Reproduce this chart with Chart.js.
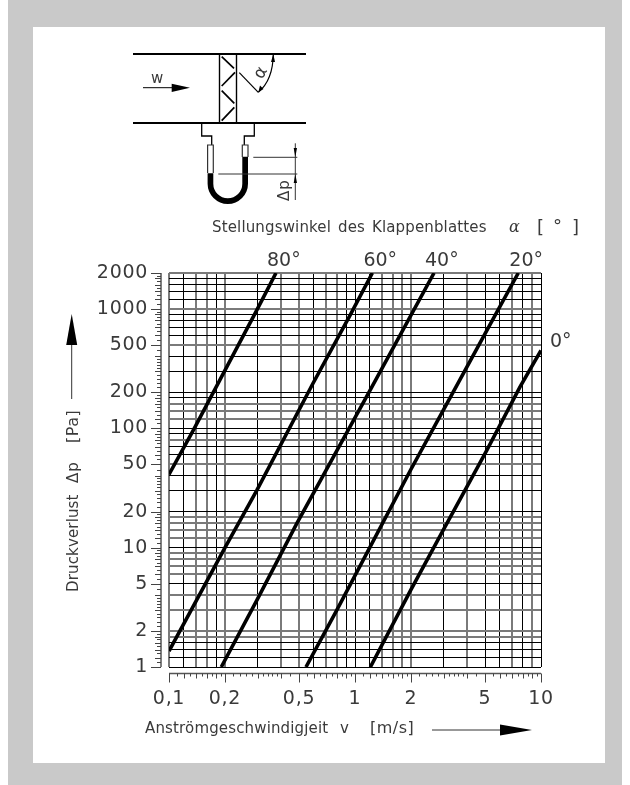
<!DOCTYPE html>
<html>
<head>
<meta charset="utf-8">
<style>html,body{margin:0;padding:0;background:#fff}canvas{display:block}</style>
<script src="https://cdn.jsdelivr.net/npm/chart.js@4"></script>
</head>
<body>
<canvas id="chart" width="630" height="785"></canvas>
<script>
const seriesNames = ['80°', '60°', '40°', '20°', '0°'];

// velocity [m/s] and pressure loss [Pa]
const v80 = [0.1, 0.135, 0.196, 0.298, 0.376];
const p80 = [41, 96, 288, 990, 2000];
const v60 = [0.1, 0.2, 0.296, 0.593, 0.94, 1.24];
const p60 = [1.36, 10, 30, 236, 882, 2000];
const v40 = [0.191, 0.296, 0.486, 1.19, 2.66];
const p40 = [1, 3.6, 15.9, 201, 2000];
const v20 = [0.545, 0.797, 1.2, 1.99, 2.98, 4.98, 7.55];
const p20 = [1, 2.98, 10, 44.7, 141, 611, 2000];
const v0 = [1.21, 1.99, 2.98, 3.98, 5.1, 7.7, 10];
const p0 = [1, 4.39, 14, 32, 65, 221, 449];

const xGrid = [0.1, 0.12, 0.14, 0.16, 0.18, 0.2, 0.3, 0.4, 0.5, 0.6, 0.7, 0.8, 0.9,
  1, 1.2, 1.4, 1.6, 1.8, 2, 3, 4, 5, 6, 7, 8, 9, 10];
const yGrid = [1, 1.2, 1.4, 1.6, 1.8, 2, 3, 4, 5, 6, 7, 8, 9,
  10, 12, 14, 16, 18, 20, 30, 40, 50, 60, 70, 80, 90,
  100, 120, 140, 160, 180, 200, 300, 400, 500, 600, 700, 800, 900,
  1000, 1200, 1400, 1600, 1800, 2000];

const xLabelValues = [0.1, 0.2, 0.5, 1, 2, 5, 10];
const xLabels = ['0,1', '0,2', '0,5', '1', '2', '5', '10'];
const yLabelValues = [1, 2, 5, 10, 20, 50, 100, 200, 500, 1000, 2000];
const yLabels = ['1', '2', '5', '10', '20', '50', '100', '200', '500', '1000', '2000'];

// lines that come out soft and grey in the scan
const xSoft = [0.1, 0.14, 0.16, 0.2, 0.4, 0.5, 0.7, 0.8, 1.4, 1.6, 1.8, 2, 4, 7, 9];
const ySoft = [2, 1.8, 3, 4, 6, 7, 8, 9, 12, 14, 16, 18, 50, 80, 120, 140, 160, 500, 1000, 2000];

// small marks on the detached rulers, per decade
const minorMantissa = [1.1, 1.3, 1.5, 1.7, 1.9, 2.2, 2.4, 2.6, 2.8, 3.2, 3.4, 3.6, 3.8, 4.5, 5.5, 6.5, 7.5, 8.5, 9.5];

const INK = '#3a3a3a';
const SANS = '"DejaVu Sans", sans-serif';

function text(ctx, str, x, y, size, spacing, rot, gap) {
  ctx.save();
  ctx.translate(x, y);
  if (rot) ctx.rotate(rot);
  ctx.font = size + 'px ' + SANS;
  ctx.letterSpacing = spacing + 'px';
  ctx.wordSpacing = (gap || 0) + 'px';
  ctx.textAlign = 'left';
  ctx.textBaseline = 'alphabetic';
  ctx.fillStyle = INK;
  ctx.fillText(str, 0, 0);
  ctx.restore();
}

function line(ctx, pts, w, color) {
  ctx.beginPath();
  pts.forEach((p, i) => i ? ctx.lineTo(p[0], p[1]) : ctx.moveTo(p[0], p[1]));
  ctx.lineWidth = w;
  ctx.strokeStyle = color || '#000';
  ctx.stroke();
}

function solid(ctx, pts) {
  ctx.beginPath();
  pts.forEach((p, i) => i ? ctx.lineTo(p[0], p[1]) : ctx.moveTo(p[0], p[1]));
  ctx.closePath();
  ctx.fillStyle = '#000';
  ctx.fill();
}

function drawSketch(ctx) {
  // duct and damper
  line(ctx, [[133, 54], [306, 54]], 2);
  line(ctx, [[133, 123], [306, 123]], 2);
  line(ctx, [[219.5, 54], [219.5, 123]], 1.4);
  line(ctx, [[236.5, 54], [236.5, 123]], 1.4);
  line(ctx, [[221.7, 56.7], [234, 68.3]], 1.7);
  line(ctx, [[235, 72.3], [221.7, 86]], 1.7);
  line(ctx, [[221.7, 90.7], [234.3, 103.3]], 1.7);
  line(ctx, [[234.3, 107.3], [221.7, 120.7]], 1.7);

  // blade angle
  line(ctx, [[239.3, 72.7], [258.3, 92.3]], 1.2);
  ctx.beginPath();
  ctx.moveTo(258.3, 92.3);
  ctx.quadraticCurveTo(273, 80, 273.3, 54);
  ctx.lineWidth = 1.2;
  ctx.strokeStyle = '#000';
  ctx.stroke();
  solid(ctx, [[258.3, 92.3], [260, 85.5], [263.5, 89]]);
  solid(ctx, [[273.3, 54], [271, 62], [275, 62]]);
  text(ctx, 'α', 262, 80, 17, 0, -Math.PI / 3);

  // flow arrow
  text(ctx, 'w', 151, 83, 15, 0);
  line(ctx, [[143, 87.7], [172, 87.7]], 1);
  solid(ctx, [[171.7, 83.7], [190, 87.7], [171.7, 92]]);

  // tappings
  line(ctx, [[201.7, 123], [201.7, 136], [211.7, 136], [211.7, 145]], 1.3);
  line(ctx, [[254.3, 123], [254.3, 136], [244.3, 136], [244.3, 145]], 1.3);

  // u tube
  ctx.beginPath();
  ctx.moveTo(207.6, 173.3);
  ctx.lineTo(207.6, 183.8);
  ctx.arc(227.8, 183.8, 20.2, Math.PI, 0, true);
  ctx.lineTo(248, 156.7);
  ctx.lineTo(242.3, 156.7);
  ctx.lineTo(242.3, 183.8);
  ctx.arc(227.8, 183.8, 14.5, 0, Math.PI, false);
  ctx.lineTo(213.3, 173.3);
  ctx.closePath();
  ctx.fillStyle = '#000';
  ctx.fill();
  line(ctx, [[207.6, 173], [207.6, 145], [213.3, 145], [213.3, 173]], 1.2, '#333');
  line(ctx, [[242.3, 157], [242.3, 145], [248, 145], [248, 157]], 1.2, '#333');

  // delta p dimension
  line(ctx, [[253.3, 157.3], [297.3, 157.3]], 1, '#333');
  line(ctx, [[218.3, 174], [297.3, 174]], 1, '#333');
  line(ctx, [[295.3, 143.3], [295.3, 200]], 1, '#333');
  solid(ctx, [[295.3, 157.3], [293.7, 148], [297, 148]]);
  solid(ctx, [[295.3, 174], [293.7, 183], [297, 183]]);
  text(ctx, 'Δp', 289, 201, 15, 1, -Math.PI / 2);
}

const framePlugin = {
  id: 'frame',
  beforeDraw(chart) {
    const ctx = chart.ctx;
    ctx.fillStyle = '#fff';
    ctx.fillRect(0, 0, 630, 785);
    ctx.fillStyle = '#c9c9c9';
    ctx.fillRect(8, 0, 614, 785);
    ctx.fillStyle = '#fff';
    ctx.fillRect(33, 27, 572, 736);
    ctx.letterSpacing = '0.7px';
  }
};

const notesPlugin = {
  id: 'notes',
  afterDraw(chart) {
    const ctx = chart.ctx;
    const sx = chart.scales.x, sy = chart.scales.y;
    ctx.save();
    ctx.letterSpacing = '0px';

    // detached rulers
    const rulerX = 161, rulerY = 673.5;
    line(ctx, [[rulerX, sy.top], [rulerX, sy.bottom]], 1.5, '#555');
    line(ctx, [[sx.left, rulerY], [sx.right, rulerY]], 1.5, '#555');
    const yTick = (v, len) => {
      const p = Math.round(sy.getPixelForValue(v)) + 0.5;
      line(ctx, [[rulerX - len, p], [rulerX, p]], 1, '#444');
    };
    const xTick = (v, len) => {
      const p = Math.round(sx.getPixelForValue(v)) + 0.5;
      line(ctx, [[p, rulerY], [p, rulerY + len]], 1, '#444');
    };
    yGrid.forEach(v => yTick(v, yLabelValues.includes(v) ? 10 : 6));
    xGrid.forEach(v => xTick(v, xLabelValues.includes(v) ? 9 : 5));
    [1, 10, 100, 1000].forEach(d => minorMantissa.forEach(m => {
      if (m * d < 2000) yTick(m * d, 4);
    }));
    [0.1, 1].forEach(d => minorMantissa.forEach(m => xTick(m * d, 3)));

    // angle names next to the end of each curve
    seriesNames.forEach((name, i) => {
      const pts = chart.getDatasetMeta(i).data;
      const end = pts[pts.length - 1];
      if (name === '0°') text(ctx, name, end.x + 9, end.y - 3, 19, 0);
      else text(ctx, name, end.x - 9, 266, 19, 0);
    });

    // captions
    text(ctx, 'Stellungswinkel des Klappenblattes', 212, 232, 15, 0.15, 0, 2);
    ctx.save();
    ctx.font = 'italic 16px "DejaVu Serif", serif';
    ctx.fillStyle = INK;
    ctx.fillText('α', 509, 232);
    ctx.restore();
    text(ctx, '[', 537, 233, 18, 0);
    text(ctx, '°', 553, 232, 18, 0);
    text(ctx, ']', 572, 233, 18, 0);

    text(ctx, 'Anströmgeschwindigjeit', 145, 733, 15, 0.15);
    text(ctx, 'v', 340, 733, 15, 0);
    text(ctx, '[m/s]', 370, 733, 16, 0.5);
    line(ctx, [[432, 730], [501, 730]], 1, '#333');
    solid(ctx, [[500, 724.5], [532, 730], [500, 735.5]]);

    const up = -Math.PI / 2;
    text(ctx, 'Druckverlust', 78, 592, 15, 0.15, up);
    text(ctx, 'Δp', 78, 483, 15, 1, up);
    text(ctx, '[Pa]', 78, 443, 16, 0.5, up);
    line(ctx, [[71.7, 399], [71.7, 345]], 1, '#333');
    solid(ctx, [[66.2, 345], [71.7, 314], [77.2, 345]]);

    drawSketch(ctx);
    ctx.restore();
  }
};

function curve(name, xs, ys) {
  return {
    label: name,
    data: xs.map((x, i) => ({x: x, y: ys[i]})),
    borderColor: '#000',
    borderWidth: 3.6,
    pointRadius: 0,
    fill: false,
    tension: 0
  };
}

const axisFont = {family: SANS, size: 19};

const config = {
  type: 'line',
  data: {
    datasets: [
      curve(seriesNames[0], v80, p80),
      curve(seriesNames[1], v60, p60),
      curve(seriesNames[2], v40, p40),
      curve(seriesNames[3], v20, p20),
      curve(seriesNames[4], v0, p0)
    ]
  },
  options: {
    responsive: false,
    animation: false,
    layout: {padding: {top: 273, right: 89, left: 0, bottom: 0}},
    plugins: {legend: {display: false}, title: {display: false}, tooltip: {enabled: false}},
    scales: {
      x: {
        type: 'logarithmic',
        min: 0.1,
        max: 10,
        afterBuildTicks: s => { s.ticks = xGrid.map(v => ({value: v})); },
        afterFit: s => { s.height = 118; },
        border: {display: false},
        grid: {
          drawTicks: false,
          color: c => xSoft.includes(c.tick.value) ? '#7a7a7a' : '#000',
          lineWidth: c => xSoft.includes(c.tick.value) ? 2 : 1
        },
        ticks: {
          autoSkip: false,
          maxRotation: 0,
          padding: 21,
          color: INK,
          font: axisFont,
          callback: v => {
            const i = xLabelValues.indexOf(v);
            return i < 0 ? '' : xLabels[i];
          }
        }
      },
      y: {
        type: 'logarithmic',
        min: 1,
        max: 2000,
        afterBuildTicks: s => { s.ticks = yGrid.map(v => ({value: v})); },
        afterFit: s => { s.width = 169; },
        border: {display: false},
        grid: {
          drawTicks: false,
          color: c => ySoft.includes(c.tick.value) ? '#7a7a7a' : '#000',
          lineWidth: c => ySoft.includes(c.tick.value) ? 2 : 1
        },
        ticks: {
          autoSkip: false,
          padding: 21,
          color: INK,
          font: axisFont,
          callback: v => {
            const i = yLabelValues.indexOf(v);
            return i < 0 ? '' : yLabels[i];
          }
        }
      }
    }
  },
  plugins: [framePlugin, notesPlugin]
};

new Chart(document.getElementById('chart').getContext('2d'), config);
</script>
</body>
</html>
